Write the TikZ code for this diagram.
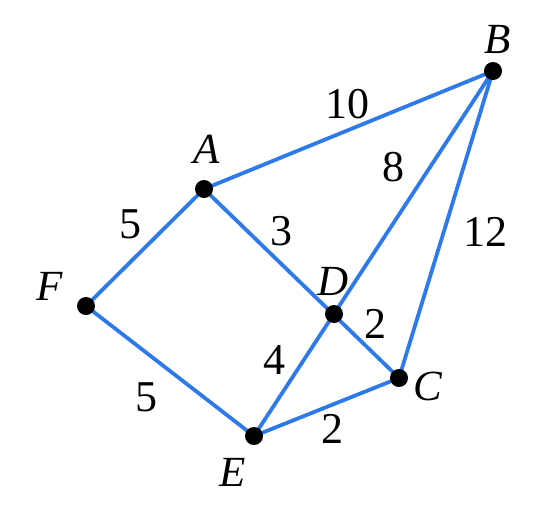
\documentclass[tikz,border=0pt]{standalone}
\usepackage{fontspec}
\setmainfont{Liberation Serif}
\definecolor{edgeblue}{RGB}{47,122,235}
\tikzset{
  vtx/.style={circle,fill=black,inner sep=0pt,minimum size=18pt},
  edge/.style={draw=edgeblue,line width=3.8pt},
  vlabel/.style={font=\fontsize{43}{43}\selectfont\itshape,inner sep=0pt},
  wlabel/.style={font=\fontsize{44}{44}\selectfont,inner sep=0pt}
}
\begin{document}
\begin{tikzpicture}[x=1pt,y=-1pt]
\useasboundingbox (0,0) rectangle (543,504);
\coordinate (A) at (204,189);
\coordinate (B) at (493,71);
\coordinate (C) at (399,378);
\coordinate (D) at (334,314);
\coordinate (E) at (254,436);
\coordinate (F) at (86,306);
\draw[edge] (A) -- (B);
\draw[edge] (A) -- (F);
\draw[edge] (A) -- (C);
\draw[edge] (B) -- (E);
\draw[edge] (B) -- (C);
\draw[edge] (F) -- (E);
\draw[edge] (E) -- (C);
\node[vtx] (nA) at (A) {};
\node[vtx] (nB) at (B) {};
\node[vtx] (nC) at (C) {};
\node[vtx] (nD) at (D) {};
\node[vtx] (nE) at (E) {};
\node[vtx] (nF) at (F) {};
\node[vlabel] (lA) at (207,149) {A};
\node[vlabel] (lB) at (498,39) {B};
\node[vlabel] (lC) at (428,386) {C};
\node[vlabel] (lD) at (333,281) {D};
\node[vlabel] (lE) at (233,472) {E};
\node[vlabel] (lF) at (50,286) {F};
\node[wlabel] (w10) at (347,104) {10};
\node[wlabel] (w8) at (393,167) {8};
\node[wlabel] (w12) at (485,232) {12};
\node[wlabel] (w5a) at (130,224) {5};
\node[wlabel] (w3) at (281,231) {3};
\node[wlabel] (w2a) at (375,324) {2};
\node[wlabel] (w4) at (274,360) {4};
\node[wlabel] (w5b) at (146,397) {5};
\node[wlabel] (w2b) at (332,429) {2};
\end{tikzpicture}
\end{document}
